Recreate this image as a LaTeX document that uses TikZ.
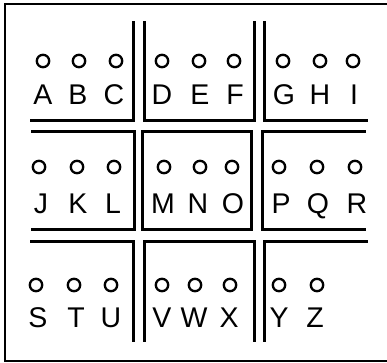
\documentclass[tikz,border=0pt]{standalone}
\usepackage{fontspec}
\setmainfont{Liberation Sans}
\begin{document}
\begin{tikzpicture}[x=1pt,y=-1pt,
  grid/.style={line width=3pt,line cap=rect,line join=miter},
  frame/.style={line width=2.8pt},
  hole/.style={line width=2.3pt},
  letter/.style={anchor=base,inner sep=0pt,font=\fontsize{28.5}{30}\selectfont}]
\useasboundingbox (0,0) rectangle (387,362);
% frame (right side lies outside the picture)
\draw[frame] (392,4) -- (5,4) -- (5,361) -- (392,361);
% grid
\draw[grid] (31,120) -- (133,120) -- (133,22);
\draw[grid] (144,22) -- (144,120) -- (254,120) -- (254,22);
\draw[grid] (264,22) -- (264,120) -- (366,120);
\draw[grid] (32,131) -- (134,131) -- (134,229) -- (32,229);
\draw[grid] (142,131) rectangle (251,229);
\draw[grid] (364,131) -- (262,131) -- (262,229) -- (364,229);
\draw[grid] (31,241) -- (133,241) -- (133,340);
\draw[grid] (144,340) -- (144,241) -- (254,241) -- (254,340);
\draw[grid] (264,340) -- (264,241) -- (366,241);
% row 1
\foreach \l/\cx/\lx in {A/43/43,B/79/78,C/116/114,D/162/162,E/199/200,F/234/235,G/283/284,H/320/320,I/353/354}{
  \coordinate (c\l) at (\cx,61);
  \draw[hole] (c\l) circle[radius=6.2pt];
  \node[letter] (\l) at (\lx,104) {\l};
}
% row 2
\foreach \l/\cx/\lx in {J/39/41,K/77/78,L/114/113,M/164/163,N/200/198,O/232/233,P/279/281,Q/317/318,R/355/357}{
  \coordinate (c\l) at (\cx,167);
  \draw[hole] (c\l) circle[radius=6.2pt];
  \node[letter] (\l) at (\lx,213) {\l};
}
% row 3
\foreach \l/\cx/\lx in {S/36/38,T/74/76,U/111/111,V/162/162,W/195/194,X/230/229,Y/279/279,Z/317/315}{
  \coordinate (c\l) at (\cx,285);
  \draw[hole] (c\l) circle[radius=6.2pt];
  \node[letter] (\l) at (\lx,327) {\l};
}
\end{tikzpicture}
\end{document}
